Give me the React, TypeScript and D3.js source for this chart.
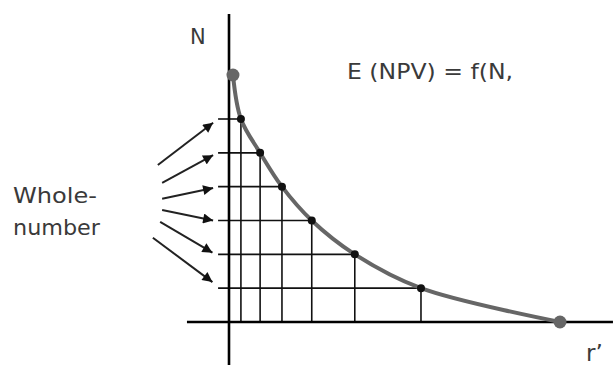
import React from "react";
import * as d3 from "d3";

// Whole-number levels of N and the r' value where the curve meets each
const nLevels = [6, 5, 4, 3, 2, 1];
const rAtLevel = [0.36, 0.94, 1.6, 2.5, 3.8, 5.8];
// curve end points (large dots)
const curveStart: [number, number] = [0.12, 7.3];
const curveEnd: [number, number] = [10, 0];
// annotation arrows (from label toward N levels), in chart units
const arrowStartR = [-2.15, -2.02, -2.02, -2.02, -2.08, -2.3];
const arrowStartN = [4.64, 4.11, 3.64, 3.31, 2.96, 2.49];
const arrowTipR = [-0.48, -0.48, -0.48, -0.48, -0.5, -0.5];
const arrowTipN = [5.89, 4.93, 3.96, 3.0, 2.05, 1.18];
// axis extents
const xAxisExtent = [-1.27, 11.6];
const yAxisExtent = [-1.27, 9.1];
const tickStartR = -0.33;

const W = 614;
const H = 367;

export default function App() {
  const x = d3.scaleLinear().domain([0, 10]).range([229, 560]);
  const y = d3.scaleLinear().domain([0, 6]).range([322, 119]);

  const pts: [number, number][] = [curveStart];
  nLevels.forEach((n, i) => pts.push([rAtLevel[i], n]));
  pts.push(curveEnd);
  pts.sort((a, b) => a[0] - b[0]);

  const line = d3
    .line<[number, number]>()
    .x((d) => x(d[0]))
    .y((d) => y(d[1]))
    .curve(d3.curveCatmullRom.alpha(0.5));

  const font = "'DejaVu Sans', Verdana, sans-serif";
  const txt = "#3a3a3a";

  return (
    <svg
      width={W}
      height={H}
      style={{ position: "absolute", left: 0, top: 0, background: "#fff" }}
    >
      <defs>
        <marker
          id="ah"
          viewBox="0 0 10 10"
          refX="10"
          refY="5"
          markerWidth="12"
          markerHeight="10"
          markerUnits="userSpaceOnUse"
          orient="auto"
        >
          <path d="M0,0 L10,5 L0,10 z" fill="#111" />
        </marker>
      </defs>

      {/* grid: vertical lines from axis to curve */}
      {nLevels.map((n, i) => (
        <line
          key={"v" + i}
          x1={x(rAtLevel[i])}
          x2={x(rAtLevel[i])}
          y1={y(0)}
          y2={y(n)}
          stroke="#111"
          strokeWidth={1.6}
        />
      ))}
      {/* grid: horizontal lines from tick to curve */}
      {nLevels.map((n, i) => (
        <line
          key={"h" + i}
          x1={x(tickStartR)}
          x2={x(rAtLevel[i])}
          y1={y(n)}
          y2={y(n)}
          stroke="#111"
          strokeWidth={1.6}
        />
      ))}

      {/* axes */}
      <line
        x1={x(xAxisExtent[0])}
        x2={x(xAxisExtent[1])}
        y1={y(0)}
        y2={y(0)}
        stroke="#000"
        strokeWidth={2.6}
      />
      <line
        x1={x(0)}
        x2={x(0)}
        y1={y(yAxisExtent[0])}
        y2={y(yAxisExtent[1])}
        stroke="#000"
        strokeWidth={2.6}
      />

      {/* curve */}
      <path d={line(pts) || ""} fill="none" stroke="#666" strokeWidth={4} />

      {/* small dots */}
      {nLevels.map((n, i) => (
        <circle key={"d" + i} cx={x(rAtLevel[i])} cy={y(n)} r={4} fill="#111" />
      ))}
      {/* big dots */}
      <circle cx={x(curveStart[0])} cy={y(curveStart[1])} r={6.5} fill="#666" />
      <circle cx={x(curveEnd[0])} cy={y(curveEnd[1])} r={6.5} fill="#666" />

      {/* arrows */}
      {arrowStartR.map((r, i) => (
        <line
          key={"a" + i}
          x1={x(r)}
          y1={y(arrowStartN[i])}
          x2={x(arrowTipR[i])}
          y2={y(arrowTipN[i])}
          stroke="#222"
          strokeWidth={2}
          markerEnd="url(#ah)"
        />
      ))}

      {/* labels */}
      <text x={190} y={44} fontFamily={font} fontSize={21} fill={txt}>
        N
      </text>
      <text
        x={347}
        y={79}
        fontFamily={font}
        fontSize={21.5}
        fill={txt}
        textLength={166}
        lengthAdjust="spacingAndGlyphs"
      >
        E (NPV) = f(N,
      </text>
      <text
        x={13}
        y={203}
        fontFamily={font}
        fontSize={22}
        fill={txt}
        textLength={84}
        lengthAdjust="spacingAndGlyphs"
      >
        Whole-
      </text>
      <text
        x={13}
        y={235}
        fontFamily={font}
        fontSize={22}
        fill={txt}
        textLength={87}
        lengthAdjust="spacingAndGlyphs"
      >
        number
      </text>
      <text x={586} y={361} fontFamily={font} fontSize={23} fill={txt}>
        r’
      </text>
    </svg>
  );
}
